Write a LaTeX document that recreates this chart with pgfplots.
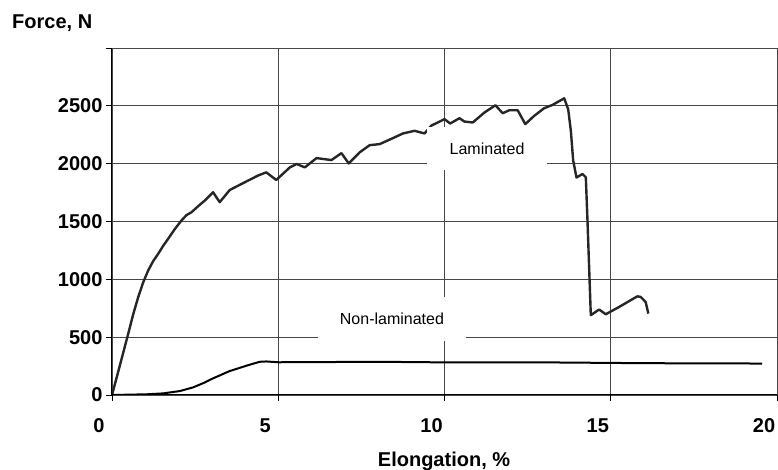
\documentclass[border=0pt]{standalone}
\usepackage{fontspec}
\setmainfont{Liberation Sans}
\usepackage{pgfplots}
\pgfplotsset{compat=1.18}
\begin{document}
\begin{tikzpicture}
\useasboundingbox (-112pt,-75pt) rectangle (666pt,395pt);
\begin{axis}[
  at={(0pt,0pt)}, anchor=south west,
  scale only axis, width=665pt, height=347pt,
  xmin=0, xmax=20, ymin=0, ymax=3000,
  axis lines=left, axis line style={-, line width=1pt, black},
  xtick={0,5,10,15,20}, xticklabels={0,5,10,15,20},
  ytick={0,500,1000,1500,2000,2500,3000},
  yticklabels={0,500,1000,1500,2000,2500,{}},
  grid=major, major grid style={black!72, line width=0.8pt},
  tick align=outside, major tick length=6pt,
  tick style={black, line width=0.8pt},
  ticklabel style={font=\bfseries\fontsize{20}{24}\selectfont},
  xticklabel style={xshift=-13pt, yshift=-14pt},
  xlabel={Elongation, \%},
  xlabel style={font=\bfseries\fontsize{20}{24}\selectfont, at={(axis description cs:0.4993,0)}, anchor=base, yshift=-72pt, inner sep=0pt},
  ylabel={Force, N},
  ylabel style={font=\bfseries\fontsize{20}{24}\selectfont, at={(axis description cs:0,1)}, rotate=-90, anchor=base west, xshift=-100pt, yshift=19.7pt, inner sep=0pt},
]
\addplot[black!85, line width=2.4pt, line join=round] coordinates {
(0,0) (0.24,259) (0.49,532) (0.64,700) (0.79,848) (0.94,975) (1.09,1078)
(1.24,1158) (1.39,1221) (1.54,1290) (1.69,1351) (1.89,1435)
(2.09,1509) (2.24,1555) (2.39,1580) (2.59,1632) (2.79,1681) (3.04,1753) (3.24,1667) (3.54,1772)
(3.89,1824) (4.39,1897) (4.64,1925) (4.94,1859) (5.35,1968) (5.55,1997)
(5.8,1968) (6.15,2048) (6.6,2031) (6.9,2091) (7.12,2002) (7.45,2098)
(7.75,2160) (8.05,2169) (8.45,2221) (8.75,2261) (9.1,2284) (9.4,2261)
(9.6,2328) (10.0,2385) (10.17,2347) (10.45,2393) (10.6,2364) (10.85,2356)
(11.2,2442) (11.53,2505) (11.75,2436) (11.95,2462) (12.2,2462) (12.43,2342)
(12.7,2414) (13.0,2480) (13.25,2508) (13.6,2565) (13.72,2470) (13.8,2284)
(13.87,2026) (13.97,1880) (14.15,1911) (14.25,1882) (14.3,1509) (14.4,690)
(14.65,739) (14.85,698) (15.25,761) (15.8,853) (15.9,848) (16.05,804) (16.13,704)
};
\addplot[black, line width=2pt, line join=round] coordinates {
(0,0) (1.04,6) (1.54,14) (2.04,34) (2.44,66) (2.74,102) (3.04,144) (3.54,207)
(4.04,253) (4.44,287) (4.64,290) (5.0,283) (8.04,287) (10,282)
(13.45,281) (16,275) (19.55,272)
};
\node[fill=white, inner sep=0pt, minimum width=120pt, minimum height=43pt,
  font=\fontsize{16}{19}\selectfont] at (axis cs:11.28,2131) {Laminated};
\node[fill=white, inner sep=0pt, minimum width=148pt, minimum height=44pt,
  font=\fontsize{16}{19}\selectfont] at (axis cs:8.42,657) {Non-laminated};
\end{axis}
\end{tikzpicture}
\end{document}
